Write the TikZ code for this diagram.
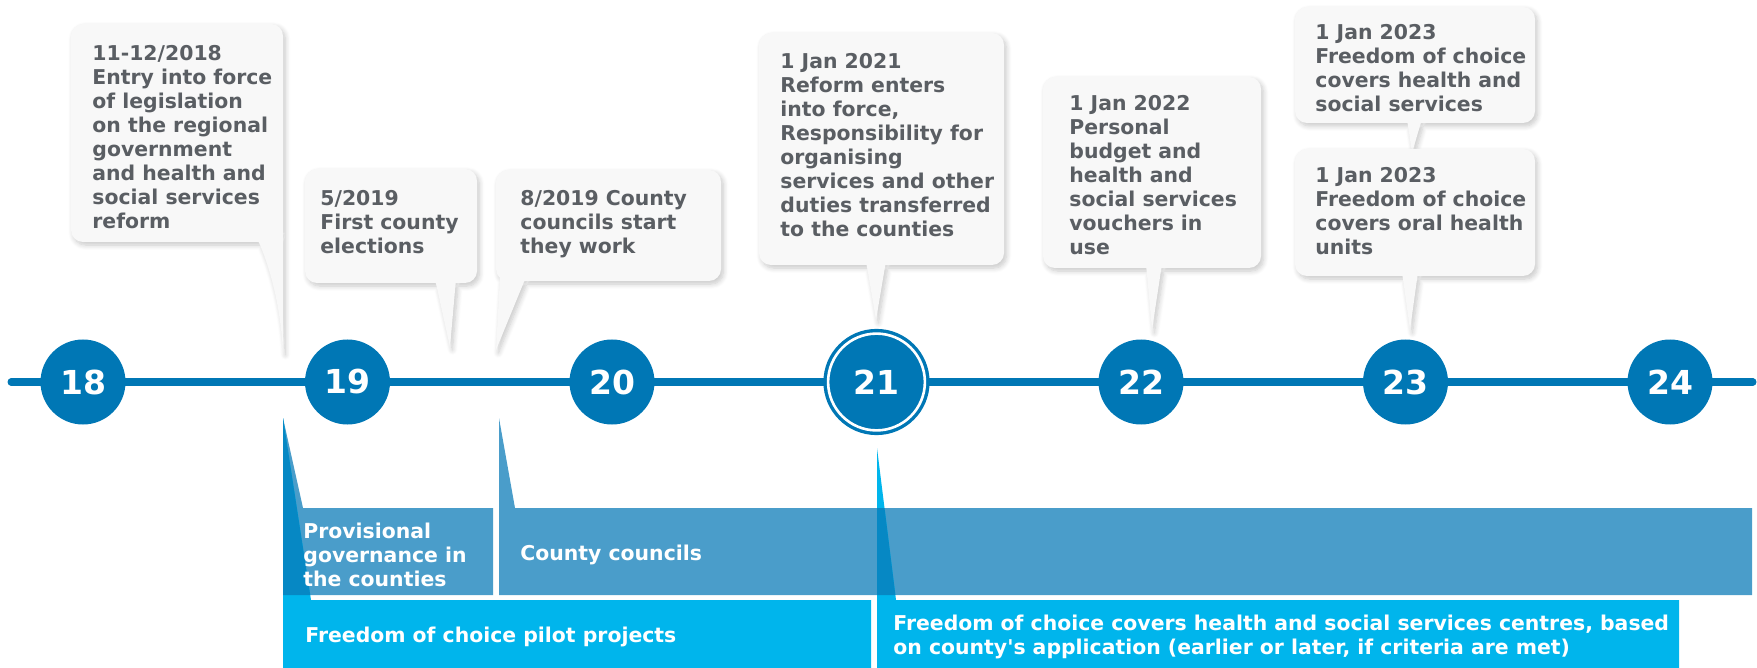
\documentclass[tikz,border=0pt]{standalone}
\usepackage{fontspec}
\setmainfont{DejaVu Sans}
\usetikzlibrary{shadows.blur}

\definecolor{tlblue}{HTML}{0077B5}
\definecolor{barblue}{HTML}{4A9DCA}
\definecolor{barcyan}{HTML}{00B5EC}
\definecolor{overlapblue}{HTML}{0688C4}
\definecolor{bubblefill}{HTML}{F8F8F8}
\definecolor{bubbletext}{HTML}{5A5E63}

\begin{document}
\begin{tikzpicture}[x=0.5pt,y=-0.5pt,
    bubble/.style={fill=bubblefill, blur shadow={shadow xshift=1.2pt, shadow yshift=-1.5pt, shadow blur radius=2.5pt, shadow blur steps=8, shadow opacity=22}},
    bubbletxt/.style={anchor=north west, inner sep=0pt, align=left, text=bubbletext, font=\fontsize{10.2}{12}\selectfont\bfseries},
    bartxt/.style={anchor=north west, inner sep=0pt, align=left, text=white, font=\fontsize{10.2}{12}\selectfont\bfseries},
    yearcirc/.style={circle, fill=tlblue, text=white, minimum size=42.5pt, inner sep=0pt, font=\fontsize{16.5}{18}\selectfont\bfseries},
    bigyear/.style={yearcirc, minimum size=48.4pt, draw=tlblue, double=white, double distance=1.3pt, line width=1.7pt}]
    \def\r{6pt}
    \useasboundingbox (0,0) rectangle (1757,668);

    % callouts above the line
    \begin{scope}[rounded corners=\r]
        \fill[bubble] (71,24) rectangle (283,242) [sharp corners] (257,238) .. controls (268,262) and (280,300) .. (283,352) -- (283,230) -- cycle;
        \fill[bubble] (305,169) rectangle (477,283) [sharp corners] (435,279) -- (450,347) -- (456,279) -- cycle;
        \fill[bubble] (496,170) rectangle (721,281) [sharp corners] (500,277) -- (496,350) -- (526,277) -- cycle;
        \fill[bubble] (759,33) rectangle (1004,265) [sharp corners] (866,261) -- (876,320) -- (886,261) -- cycle;
        \fill[bubble] (1043,77) rectangle (1261,268) [sharp corners] (1146,264) -- (1152,330) -- (1162,264) -- cycle;
        \fill[bubble] (1295,7) rectangle (1535,123) [sharp corners] (1407,119) -- (1412,153) -- (1422,119) -- cycle;
        \fill[bubble] (1295,149) rectangle (1535,276) [sharp corners] (1402,272) -- (1410,330) -- (1418,272) -- cycle;
    \end{scope}

    \node[bubbletxt] (e18) at (92,45) {11-12/2018\\Entry into force\\of legislation\\on the regional\\government\\and health and\\social services\\reform};
    \node[bubbletxt] (e19a) at (320,190) {5/2019\\First county\\elections};
    \node[bubbletxt] (e19b) at (520,190) {8/2019 County\\councils start\\they work};
    \node[bubbletxt] (e21) at (780,53) {1 Jan 2021\\Reform enters\\into force,\\Responsibility for\\organising\\services and other\\duties transferred\\to the counties};
    \node[bubbletxt] (e22) at (1069,95) {1 Jan 2022\\Personal\\budget and\\health and\\social services\\vouchers in\\use};
    \node[bubbletxt] (e23a) at (1315,24) {1 Jan 2023\\Freedom of choice\\covers health and\\social services};
    \node[bubbletxt] (e23b) at (1315,167) {1 Jan 2023\\Freedom of choice\\covers oral health\\units};

    % time line
    \coordinate (tlstart) at (11,382);
    \coordinate (tlend) at (1753,382);
    \draw[tlblue, line width=3.5pt, line cap=round] (tlstart) -- (tlend);
    \foreach \yr/\sty [count=\i from 0] in {18/yearcirc,19/yearcirc,20/yearcirc,21/bigyear,22/yearcirc,23/yearcirc,24/yearcirc}
        \node[\sty] (y\yr) at ({83+264.5*\i},382) {\yr};

    % periods below the line
    \fill[barblue] (283,418) -- (303,508) -- (493,508) -- (493,595) -- (283,595) -- cycle;
    \fill[barblue] (499,418) -- (515,508) -- (1752,508) -- (1752,595) -- (499,595) -- cycle;
    \fill[barcyan] (283,418) -- (311,600) -- (871,600) -- (871,668) -- (283,668) -- cycle;
    \fill[barcyan] (877,448) -- (896,600) -- (1679,600) -- (1679,668) -- (877,668) -- cycle;
    \begin{scope}
        \clip (283,418) -- (303,508) -- (493,508) -- (493,595) -- (283,595) -- cycle
              (499,418) -- (515,508) -- (1752,508) -- (1752,595) -- (499,595) -- cycle;
        \fill[overlapblue] (283,418) -- (311,600) -- (283,600) -- cycle;
        \fill[overlapblue] (877,448) -- (896,600) -- (877,600) -- cycle;
    \end{scope}

    \node[bartxt] (prov) at (303,523) {Provisional\\governance in\\the counties};
    \node[bartxt] (council) at (520,545) {County councils};
    \node[bartxt] (pilot) at (305,627) {Freedom of choice pilot projects};
    \node[bartxt] (centres) at (893,615) {Freedom of choice covers health and social services centres, based\\on county\textquotesingle s application (earlier or later, if criteria are met)};
\end{tikzpicture}
\end{document}
